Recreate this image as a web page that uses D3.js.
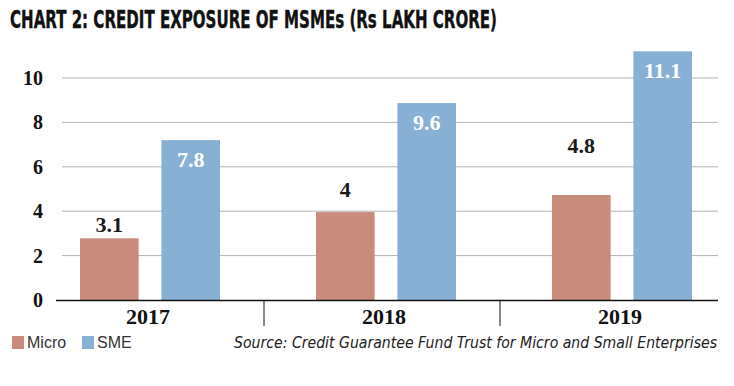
<!DOCTYPE html>
<html>
<head>
<meta charset="utf-8">
<script src="https://cdn.jsdelivr.net/npm/d3@7"></script>
<style>
  body { margin: 0; background: #fff; }
  svg { display: block; }
</style>
</head>
<body>
<svg id="chart" width="734" height="386"></svg>
<script>
// data
const years = ["2017", "2018", "2019"];
const series = ["Micro", "SME"];
const microLabels = ["3.1", "4", "4.8"];
const smeLabels = ["7.8", "9.6", "11.1"];
// bar heights as drawn in the picture (they differ slightly from the printed labels)
const microBars = [2.78, 3.96, 4.73];
const smeBars = [7.2, 8.87, 11.2];
// where the printed Micro labels sit, in chart units
const microLabelAt = [3.07, 4.65, 6.6];
const yTicks = [0, 2, 4, 6, 8, 10];

const colors = {Micro: "#c98c7c", SME: "#87b0d4"};

const svg = d3.select("#chart");

const x = d3.scaleBand().domain(years).range([32, 740]);
const sub = d3.scaleBand().domain(series).range([48, 188]).paddingInner(0.28);
const y = d3.scaleLinear().domain([0, 10]).range([300, 78]);

// title
svg.append("text")
  .attr("x", 10).attr("y", 28)
  .attr("font-family", "'Liberation Sans Narrow', 'DejaVu Sans Condensed', sans-serif")
  .attr("font-weight", "bold")
  .attr("font-size", 24)
  .attr("textLength", 487)
  .attr("lengthAdjust", "spacingAndGlyphs")
  .attr("fill", "#111")
  .attr("stroke", "#111").attr("stroke-width", 0.4)
  .text("CHART 2: CREDIT EXPOSURE OF MSMEs (Rs LAKH CRORE)");

// gridlines
svg.append("g").selectAll("line")
  .data(yTicks.filter(d => d > 0))
  .enter().append("line")
  .attr("x1", 62).attr("x2", 718)
  .attr("y1", d => y(d)).attr("y2", d => y(d))
  .attr("stroke", "#b3b3b3").attr("stroke-width", 1);

// y labels
svg.append("g").selectAll("text")
  .data(yTicks)
  .enter().append("text")
  .attr("x", 43).attr("y", d => y(d))
  .attr("text-anchor", "end")
  .attr("dominant-baseline", "central")
  .attr("font-family", "'Liberation Serif', serif")
  .attr("font-weight", "bold")
  .attr("font-size", 20)
  .attr("fill", "#111")
  .text(d => d);

// bars
const groups = svg.append("g").selectAll("g")
  .data(years)
  .enter().append("g")
  .attr("transform", d => `translate(${x(d)},0)`);

groups.append("rect")
  .attr("x", sub("Micro")).attr("width", sub.bandwidth())
  .attr("y", (d, i) => y(microBars[i]))
  .attr("height", (d, i) => y(0) - y(microBars[i]))
  .attr("fill", colors.Micro);

groups.append("rect")
  .attr("x", sub("SME")).attr("width", sub.bandwidth())
  .attr("y", (d, i) => y(smeBars[i]))
  .attr("height", (d, i) => y(0) - y(smeBars[i]))
  .attr("fill", colors.SME);

// value labels
groups.append("text")
  .attr("x", sub("Micro") + sub.bandwidth() / 2)
  .attr("y", (d, i) => y(microLabelAt[i]))
  .attr("text-anchor", "middle")
  .attr("font-family", "'Liberation Serif', serif")
  .attr("font-weight", "bold")
  .attr("font-size", 22)
  .attr("fill", "#1a1a1a")
  .text((d, i) => microLabels[i]);

groups.append("text")
  .attr("x", sub("SME") + sub.bandwidth() / 2)
  .attr("y", (d, i) => y(smeBars[i]) + 27)
  .attr("text-anchor", "middle")
  .attr("font-family", "'Liberation Serif', serif")
  .attr("font-weight", "bold")
  .attr("font-size", 22)
  .attr("fill", "#fff")
  .text((d, i) => smeLabels[i]);

// x axis line and dividers
svg.append("line")
  .attr("x1", 56).attr("x2", 718)
  .attr("y1", y(0) + 0.5).attr("y2", y(0) + 0.5)
  .attr("stroke", "#111").attr("stroke-width", 1.5);

svg.append("g").selectAll("line")
  .data(years.slice(1))
  .enter().append("line")
  .attr("x1", d => x(d) - 4).attr("x2", d => x(d) - 4)
  .attr("y1", y(0)).attr("y2", 326)
  .attr("stroke", "#111").attr("stroke-width", 1);

svg.append("g").selectAll("text")
  .data(years)
  .enter().append("text")
  .attr("x", d => x(d) + sub("Micro") + (sub("SME") + sub.bandwidth() - sub("Micro")) / 2 - 2)
  .attr("y", 324)
  .attr("text-anchor", "middle")
  .attr("font-family", "'Liberation Serif', serif")
  .attr("font-weight", "bold")
  .attr("font-size", 22)
  .attr("fill", "#111")
  .text(d => d);

// legend
const legend = svg.append("g").attr("transform", "translate(12,336)");
const legendX = d3.scaleOrdinal().domain(series).range([0, 70]);
const li = legend.selectAll("g").data(series).enter().append("g")
  .attr("transform", d => `translate(${legendX(d)},0)`);
li.append("rect").attr("width", 12).attr("height", 13).attr("fill", d => colors[d]);
li.append("text")
  .attr("x", 15).attr("y", 12)
  .attr("font-family", "'Liberation Sans', sans-serif")
  .attr("font-size", 16)
  .attr("fill", "#333")
  .text(d => d);

// source
svg.append("text")
  .attr("x", 234).attr("y", 348)
  .attr("font-family", "'DejaVu Sans Condensed', sans-serif")
  .attr("font-style", "italic")
  .attr("font-size", 15)
  .attr("textLength", 483)
  .attr("lengthAdjust", "spacingAndGlyphs")
  .attr("fill", "#222")
  .text("Source: Credit Guarantee Fund Trust for Micro and Small Enterprises");
</script>
</body>
</html>
